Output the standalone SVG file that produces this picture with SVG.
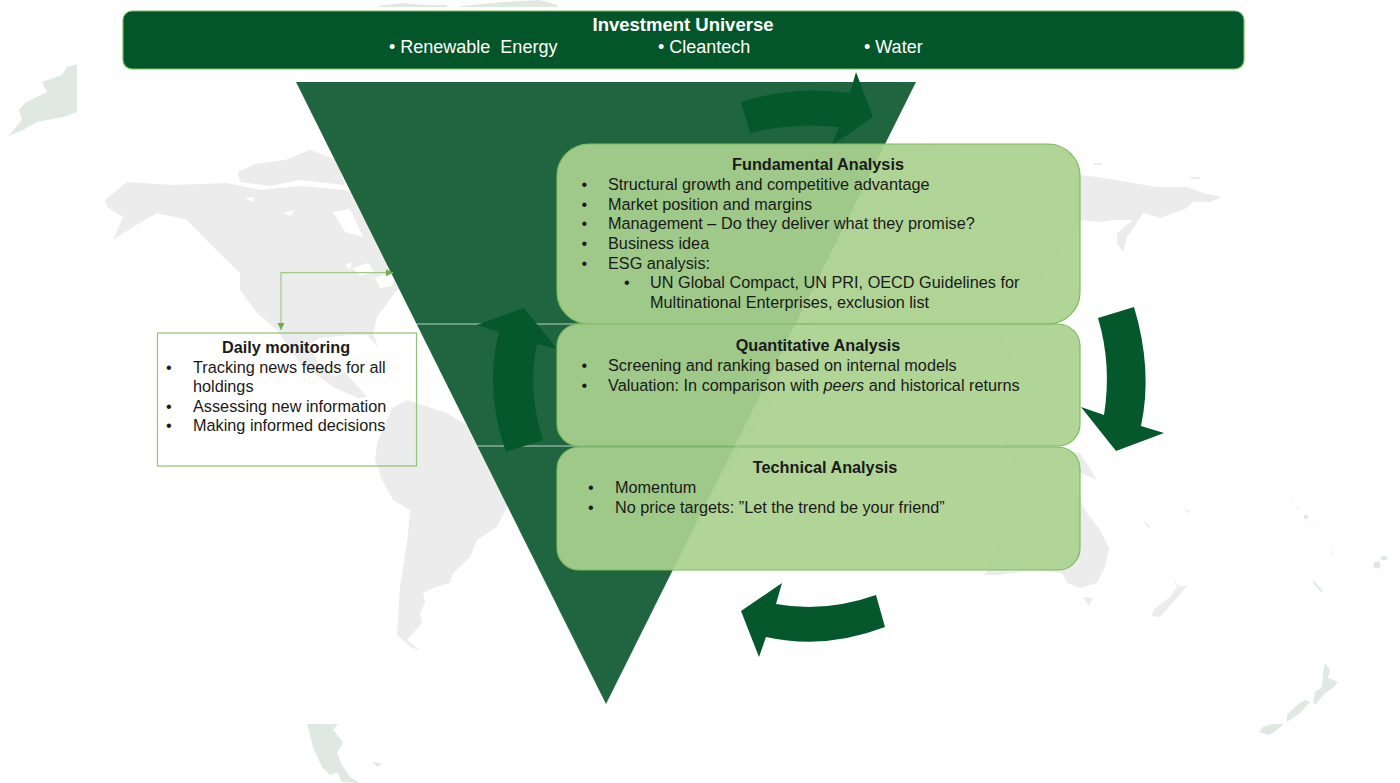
<svg xmlns="http://www.w3.org/2000/svg" width="1400" height="783" viewBox="0 0 1400 783">
<style>
text{font-family:"Liberation Sans",Arial,sans-serif;font-size:16.25px;fill:#1a1a1a}
.t{font-weight:bold;text-anchor:middle}
.w{fill:#fff;font-size:18px}
.tw{font-size:18.5px}
.g{fill:#ececec}
.p{fill:#dfe9e2}
.c{fill:#04582c}
.b{fill:#a9d18e;fill-opacity:.92;stroke:#7dbb5e;stroke-width:1.2}
.s{stroke:#fff;stroke-opacity:.7;stroke-width:1;fill:none}
</style>
<defs>
<marker id="h" markerUnits="userSpaceOnUse" markerWidth="8" markerHeight="8" refX="7" refY="4" orient="auto-start-reverse"><path d="M0,0.5L7,4L0,7.5Z" fill="#70ad47"/></marker>
<filter id="soft" x="0" y="0" width="1" height="1"><feGaussianBlur stdDeviation="0.7"/></filter>
</defs>
<g id="map" filter="url(#soft)">
<path class="g" d="M105,200L127,182L173,185L227,183L260,190L300,186L345,190L370,200L385,245L397,260L420,300L397,290L377,317L373,333L378,347L367,335L350,335L320,338L308,345L318,362L333,377L345,372L367,397L358,398L333,387L300,363L277,330L257,313L240,290L240,273L213,247L187,220L157,213L133,227L113,240L123,217L107,207Z"/>
<path class="g" d="M238,172L255,164L285,160L310,150L337,160L345,185L300,180L270,186L240,182Z"/>
<path fill="#fff" d="M333,212L350,209L363,237L345,232ZM353,268L368,263L374,272L360,276ZM375,278L395,272L392,286L380,288ZM345,265L352,262L350,270ZM245,198L255,197L252,202ZM283,213L295,210L290,216Z"/>
<path class="g" d="M377,443L392,408L407,400L447,413L490,440L525,470L507,507L497,527L477,540L470,557L453,573L450,583L433,588L423,593L425,603L420,613L422,623L407,640L420,650L412,648L397,635L400,587L407,543L410,510L393,500L382,480L375,460Z"/>
<path class="g" d="M640,180L720,165L830,148L915,146L921,143L926,146L1080,175L1097,177L1127,182L1157,187L1187,187L1203,193L1222,197L1210,202L1193,202L1187,208L1160,218L1143,213L1137,223L1127,237L1123,252L1117,243L1117,233L1133,220L1113,220L1100,222L1080,220L1040,280L990,310L1020,370L970,360L930,345L880,390L850,340L790,320L780,390L730,470L690,530L670,450L590,370L610,300L650,260L620,230Z"/>
<path class="g" d="M1094,163h8v2h-8ZM1191,177h9v2h-9Z"/>
<path class="g" d="M1000,440L1080,453L1097,480L1075,470L1020,470Z"/>
<path class="g" d="M985,575L1000,540L1050,490L1080,500L1087,513L1100,530L1109,548L1105,567L1097,583L1080,588L1067,583L1062,573L1030,570L1000,575Z"/>
<path class="g" d="M1083,597L1093,598L1089,606Z"/>
<path class="g" d="M1172,575L1178,586L1187,586L1177,598L1160,617L1152,616L1153,610L1170,597L1177,587Z"/>
<path class="g" d="M1143,520L1150,526L1148,528ZM1185,510l4,0l-1,3Z"/>
<path class="p" d="M77,64L77,112L63,117L37,122L23,130L8,136L22,120L19,110L25,103L47,92L42,82L62,75L67,67Z"/>
<path class="p" d="M307,724L338,724L333,730L343,742L337,753L342,765L350,777L360,783L342,782L337,772L330,775L322,767L313,747Z"/>
<path class="p" d="M372,762L382,763L378,767Z"/>
<path class="p" d="M378,6L403,3L425,5L447,5L447,7L378,7ZM460,6L503,2L540,0L557,5L557,7L460,7Z"/>
<path class="p" d="M1325,663L1330,670L1328,678L1338,682L1333,688L1325,693L1315,705L1313,702L1315,692L1322,687L1323,673Z"/>
<path class="p" d="M1305,700L1310,702L1300,713L1287,722L1287,715L1297,705Z"/>
<path class="p" d="M1272,724L1284,724L1273,733L1268,735L1259,732L1263,727Z"/>
<circle class="p" cx="1377" cy="565" r="3.5"/>
<ellipse class="p" cx="1384" cy="558" rx="3.5" ry="2"/>
<path class="p" d="M1313,580L1323,591L1321,592L1313,583Z"/>
<circle class="p" cx="1306" cy="517" r="2.2"/>
<path class="p" d="M1290,497l2,2l-1,1ZM1296,506l3,2l-1,1ZM1312,523l1,2l-2,0ZM1331,548l2,6l-1,1Z"/>
</g>
<g id="funnel">
<path fill="#155f38" fill-opacity=".96" d="M296,82H916L606,704Z"/>
<path class="s" d="M416.6,324H795.4M477,446H735"/>
</g>
<g id="connectors">
<path d="M281,330V272.7H393" fill="none" stroke="#9dcb84" stroke-width="1.2" marker-start="url(#h)" marker-end="url(#h)"/>
<path id="arrow-top" class="c" d="M741,102Q795,85 850,93L856,72L873,117L834,144H832L839,127Q795,122 750,133Z"/>
<path id="arrow-right" class="c" d="M1098,318L1134,307Q1153,370 1141,426L1164,433L1116,451L1081,407L1104,415Q1112,365 1098,318Z"/>
<path id="arrow-bottom" class="c" d="M876,595L885,627Q825,650 766,637L759,657L741,611L782,583L776,604Q825,613 876,595Z"/>
<path id="arrow-left" class="c" d="M506,452Q484,390 499,332L477,325L524,308L557,349L537,344Q527,390 543,440Z"/>
</g>
<g id="investment-universe">
<rect x="123" y="11" width="1121" height="58" rx="9" fill="#03562a" stroke="#7dbb5e" stroke-width="1.2"/>
<text class="t w tw" x="683" y="31">Investment Universe</text>
<text class="w" x="389" y="53" xml:space="preserve">• Renewable  Energy</text>
<text class="w" x="658" y="53">• Cleantech</text>
<text class="w" x="864" y="53">• Water</text>
</g>
<g id="fundamental-analysis">
<rect class="b" x="557" y="144" width="523" height="180" rx="32"/>
<text class="t" x="818" y="170">Fundamental Analysis</text>
<text x="581.5" y="190">•</text><text x="608" y="190">Structural growth and competitive advantage</text>
<text x="581.5" y="209.5">•</text><text x="608" y="209.5">Market position and margins</text>
<text x="581.5" y="229">•</text><text x="608" y="229">Management – Do they deliver what they promise?</text>
<text x="581.5" y="249">•</text><text x="608" y="249">Business idea</text>
<text x="581.5" y="268.5">•</text><text x="608" y="268.5">ESG analysis:</text>
<text x="624" y="288">•</text><text x="650" y="288">UN Global Compact, UN PRI, OECD Guidelines for</text>
<text x="650" y="308">Multinational Enterprises, exclusion list</text>
</g>
<g id="quantitative-analysis">
<rect class="b" x="557" y="324" width="523" height="122" rx="22"/>
<text class="t" x="818" y="351">Quantitative Analysis</text>
<text x="581.5" y="371">•</text><text x="608" y="371">Screening and ranking based on internal models</text>
<text x="581.5" y="391">•</text><text x="608" y="391">Valuation: In comparison with <tspan font-style="italic">peers</tspan> and historical returns</text>
</g>
<g id="technical-analysis">
<rect class="b" x="557" y="447" width="523" height="123" rx="22"/>
<text class="t" x="825" y="473">Technical Analysis</text>
<text x="588" y="493">•</text><text x="615" y="493">Momentum</text>
<text x="588" y="513">•</text><text x="615" y="513">No price targets: ”Let the trend be your friend”</text>
</g>
<g id="daily-monitoring">
<rect x="157.5" y="333" width="259" height="133" fill="none" stroke="#8fc476" stroke-width="1.2"/>
<text class="t" x="286" y="353">Daily monitoring</text>
<text x="166" y="373">•</text><text x="193" y="373">Tracking news feeds for all</text>
<text x="193" y="392">holdings</text>
<text x="166" y="412">•</text><text x="193" y="412">Assessing new information</text>
<text x="166" y="431">•</text><text x="193" y="431">Making informed decisions</text>
</g>
</svg>
